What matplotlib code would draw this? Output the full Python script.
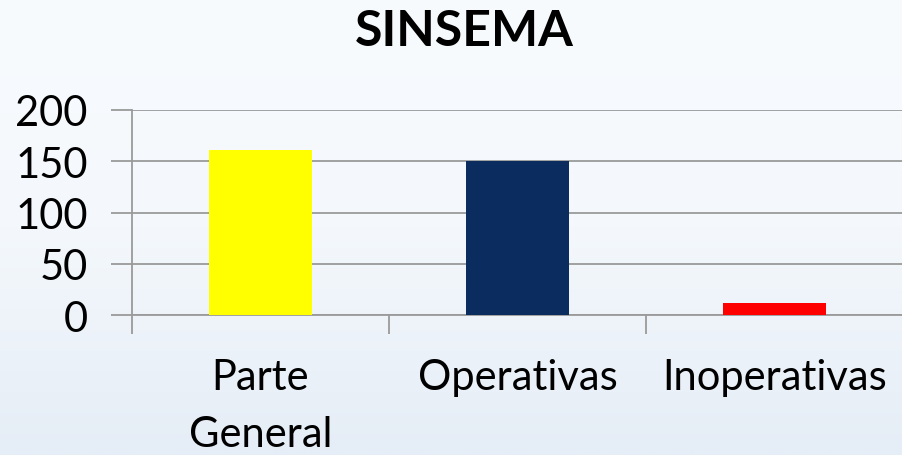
import matplotlib
matplotlib.use("Agg")
import matplotlib.pyplot as plt
import numpy as np
from matplotlib.colors import LinearSegmentedColormap

categories = ["Parte\nGeneral", "Operativas", "Inoperativas"]
values = [161, 150, 12]
colors = ["#FFFF00", "#0A2C5E", "#FF0000"]
yticks = [0, 50, 100, 150, 200]

fig = plt.figure(figsize=(9.02, 4.56), dpi=100)
# background gradient
bg = fig.add_axes([0, 0, 1, 1], zorder=-10)
grad = np.linspace(0, 1, 256).reshape(-1, 1)
cmap = LinearSegmentedColormap.from_list("bg", ["#F8FBFE", "#F4F8FC", "#E5EDF6"])
bg.imshow(grad, aspect="auto", cmap=cmap, extent=[0, 1, 0, 1], origin="upper")
bg.axis("off")

ax = fig.add_axes([132/902, 1-316/456, (903-132)/902, 205/456])
ax.patch.set_alpha(0)
x = np.arange(len(categories))
ax.bar(x, values, width=0.4, color=colors, zorder=3)
ax.set_xlim(-0.5, 2.5)
ax.set_ylim(0, 200)
ax.set_yticks(yticks)
ax.set_xticks([-0.5, 0.5, 1.5, 2.5], minor=False)
ax.set_xticklabels([])
ax.set_xticks(x, minor=True)
ax.set_xticklabels(categories, minor=True, fontsize=30, family="Lato", linespacing=1.6)
ax.tick_params(axis="x", which="minor", length=0, pad=31)
ax.tick_params(axis="x", which="major", length=14, width=1.3, color="#9A9A9A", direction="out")
ax.tick_params(axis="y", length=15, width=1.3, color="#9A9A9A", labelsize=30, pad=17)
for lbl in ax.get_yticklabels():
    lbl.set_family("Lato")
ax.grid(axis="y", color="#9A9A9A", linewidth=1.3, zorder=0)
for s in ["top", "right"]:
    ax.spines[s].set_visible(False)
ax.spines["left"].set_color("#9A9A9A")
ax.spines["left"].set_linewidth(1.3)
ax.spines["bottom"].set_color("#9A9A9A")
ax.spines["bottom"].set_linewidth(1.3)

fig.text(464/902, 1-31/456, "SINSEMA", ha="center", va="center", fontsize=36,
         fontweight="bold", family="Lato")

fig.savefig("out.png", dpi=100)
